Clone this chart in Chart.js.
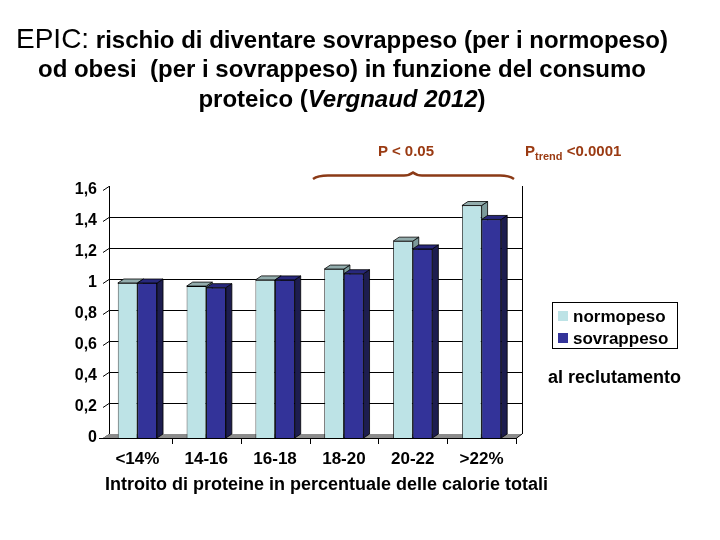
<!DOCTYPE html>
<html>
<head>
<meta charset="utf-8">
<script src="https://cdn.jsdelivr.net/npm/chart.js@4.4.0/dist/chart.umd.min.js"></script>
<style>
  body { margin: 0; background: #fff; }
  #wrap { position: relative; width: 720px; height: 540px; font-family: "Liberation Sans", Arial, sans-serif; color: #000; }
  #c { position: absolute; left: 0; top: 0; }
  .line { position: absolute; left: 0; width: 684px; text-align: center; font-weight: bold; font-size: 24px; line-height: 24px; white-space: pre; }
  .note { position: absolute; font-weight: bold; font-size: 15px; line-height: 15px; color: #9a3a12; white-space: pre; }
  #legend { position: absolute; left: 552px; top: 302px; width: 124px; height: 45px; border: 1px solid #000; }
  .row { position: absolute; left: 5px; font-weight: bold; font-size: 17px; line-height: 17px; }
  .sw { display: inline-block; width: 10px; height: 10px; margin-right: 5px; vertical-align: 1px; }
</style>
</head>
<body>
<div id="wrap">
  <canvas id="c" width="720" height="540"></canvas>

  <div class="line" style="top:27px"><span style="font-weight:normal;font-size:28px">EPIC:</span> rischio di diventare sovrappeso (per i normopeso)</div>
  <div class="line" style="top:57px">od obesi  (per i sovrappeso) in funzione del consumo</div>
  <div class="line" style="top:87px">proteico (<i>Vergnaud 2012</i>)</div>

  <div class="note" style="left:378px;top:143px">P &lt; 0.05</div>
  <div class="note" style="left:525px;top:143px">P<span style="font-size:11px;position:relative;top:4px">trend</span> &lt;0.0001</div>
  <svg style="position:absolute;left:0;top:0" width="720" height="200">
    <path d="M313,179 Q318,175.5 328,175.5 L404,175.5 Q409,175.5 413,172.5 Q417,175.5 422,175.5 L500,175.5 Q509,175.5 514,179"
          fill="none" stroke="#8b3a16" stroke-width="2.5"/>
  </svg>

  <div id="legend"></div>
  <div style="position:absolute;left:548px;top:368px;font-weight:bold;font-size:18px;line-height:18px">al reclutamento</div>
  <div style="position:absolute;left:105px;top:475px;font-weight:bold;font-size:18px;line-height:18px">Introito di proteine in percentuale delle calorie totali</div>
</div>

<script>
// dati
const categories = ['<14%', '14-16', '16-18', '18-20', '20-22', '>22%'];
const seriesNames = ['normopeso', 'sovrappeso'];
const normopeso = [1.00, 0.98, 1.02, 1.09, 1.27, 1.50];
const sovrappeso = [1.00, 0.97, 1.02, 1.06, 1.22, 1.41];
const yTickLabels = ['0', '0,2', '0,4', '0,6', '0,8', '1', '1,2', '1,4', '1,6'];

const frontColors = ['#bde3e6', '#333399'];
const topColors = ['#93adad', '#28287c'];
const sideColors = ['#7c9a9a', '#1d1d4f'];
const dx = 6, dy = -4;

// legenda
const legend = document.getElementById('legend');
seriesNames.forEach(function(name, i) {
    const row = document.createElement('div');
    row.className = 'row';
    row.style.top = (5 + i * 22) + 'px';
    row.innerHTML = '<span class="sw" style="background:' + frontColors[i] + '"></span>' + name;
    legend.appendChild(row);
});

function poly(ctx, pts, fill) {
    ctx.beginPath();
    ctx.moveTo(pts[0][0], pts[0][1]);
    for (let k = 1; k < pts.length; k++) ctx.lineTo(pts[k][0], pts[k][1]);
    ctx.closePath();
    ctx.fillStyle = fill;
    ctx.fill();
    ctx.strokeStyle = '#000';
    ctx.lineWidth = 0.8;
    ctx.stroke();
}

// pareti, pavimento e facce 3D
const threeD = {
    id: 'threeD',
    beforeDatasetsDraw(chart) {
        const ctx = chart.ctx;
        const a = chart.chartArea;
        const y = chart.scales.y;
        ctx.save();
        ctx.strokeStyle = '#000';
        ctx.lineWidth = 1;
        y.ticks.forEach(function(t, i) {
            const py = Math.round(y.getPixelForValue(t.value)) + 0.5;
            ctx.beginPath();
            ctx.moveTo(a.left, py);
            ctx.lineTo(a.left + dx, py + dy);
            // niente linea in cima né sul pavimento
            if (i > 0 && i < y.ticks.length - 1) ctx.lineTo(a.right + dx, py + dy);
            ctx.stroke();
        });
        ctx.beginPath();
        ctx.moveTo(a.left + dx + 0.5, a.top + dy);
        ctx.lineTo(a.left + dx + 0.5, a.bottom + dy);
        ctx.moveTo(a.right + dx + 0.5, a.top + dy);
        ctx.lineTo(a.right + dx + 0.5, a.bottom + dy);
        ctx.stroke();
        // pavimento
        ctx.beginPath();
        ctx.moveTo(a.left, a.bottom);
        ctx.lineTo(a.right, a.bottom);
        ctx.lineTo(a.right + dx, a.bottom + dy);
        ctx.lineTo(a.left + dx, a.bottom + dy);
        ctx.closePath();
        ctx.fillStyle = '#8c8c8c';
        ctx.fill();
        ctx.beginPath();
        ctx.moveTo(a.left - 4, a.bottom + 0.5);
        ctx.lineTo(a.right, a.bottom + 0.5);
        ctx.lineTo(a.right + dx, a.bottom + dy);
        ctx.stroke();
        // tacche asse x
        const w = (a.right - a.left) / categories.length;
        for (let k = 1; k <= categories.length; k++) {
            const px = Math.round(a.left + k * w) + 0.5;
            ctx.beginPath();
            ctx.moveTo(px, a.bottom);
            ctx.lineTo(px, a.bottom + 6);
            ctx.stroke();
        }
        ctx.restore();
    },
    afterDatasetsDraw(chart) {
        const ctx = chart.ctx;
        const m0 = chart.getDatasetMeta(0).data;
        const m1 = chart.getDatasetMeta(1).data;
        ctx.save();
        for (let i = 0; i < m0.length; i++) {
            [m0[i], m1[i]].forEach(function(bar, d) {
                const l = bar.x - bar.width / 2, r = bar.x + bar.width / 2;
                if (d === 1) bar.draw(ctx);
                poly(ctx, [[r, bar.y], [r + dx, bar.y + dy], [r + dx, bar.base + dy], [r, bar.base]], sideColors[d]);
                poly(ctx, [[l, bar.y], [r, bar.y], [r + dx, bar.y + dy], [l + dx, bar.y + dy]], topColors[d]);
            });
        }
        ctx.restore();
    }
};

new Chart(document.getElementById('c').getContext('2d'), {
    type: 'bar',
    data: {
        labels: categories,
        datasets: [
            { label: seriesNames[0], data: normopeso, backgroundColor: frontColors[0], borderColor: '#000', borderWidth: 0.8 },
            { label: seriesNames[1], data: sovrappeso, backgroundColor: frontColors[1], borderColor: '#000', borderWidth: 0.8 }
        ]
    },
    options: {
        responsive: false,
        animation: false,
        layout: { padding: { top: 190, right: 204, left: 0, bottom: 0 } },
        datasets: { bar: { categoryPercentage: 0.57, barPercentage: 1 } },
        plugins: { legend: { display: false }, tooltip: { enabled: false } },
        scales: {
            x: {
                grid: { display: false, drawTicks: false },
                border: { display: false },
                ticks: { color: '#000', padding: 11, font: { family: 'Liberation Sans', size: 17, weight: 'bold' } },
                afterFit: function(s) { s.height = 102; }
            },
            y: {
                min: 0,
                max: 1.6,
                grid: { display: false, drawTicks: false },
                border: { display: false },
                ticks: {
                    stepSize: 0.2,
                    color: '#000',
                    padding: 6,
                    font: { family: 'Liberation Sans', size: 16, weight: 'bold' },
                    callback: function(v, i) { return yTickLabels[i]; }
                },
                afterFit: function(s) { s.width = 103; }
            }
        }
    },
    plugins: [threeD]
});
</script>
</body>
</html>
